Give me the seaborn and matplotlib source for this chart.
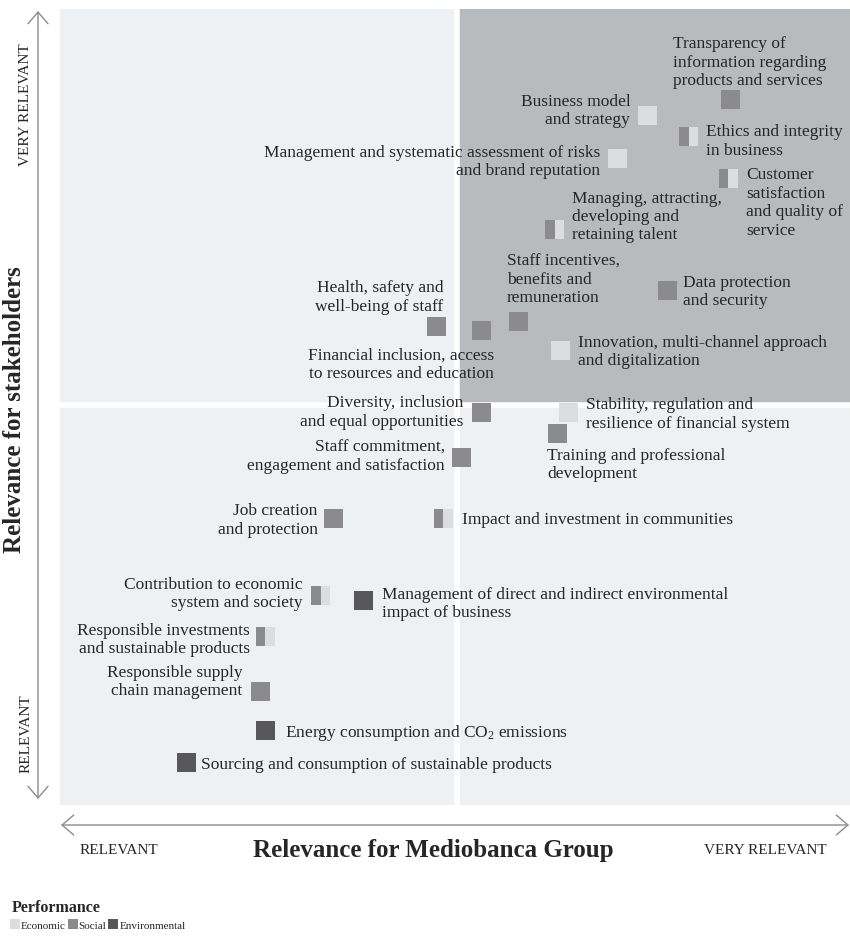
import numpy as np
import pandas as pd
import seaborn as sns
import matplotlib.pyplot as plt
from matplotlib.path import Path
from matplotlib.lines import Line2D
from matplotlib.patches import Rectangle

# ---------------- data ----------------
topics = [
    "Transparency of\ninformation regarding\nproducts and services",
    "Business model\nand strategy",
    "Ethics and integrity\nin business",
    "Management and systematic assessment of risks\nand brand reputation",
    "Customer\nsatisfaction\nand quality of\nservice",
    "Managing, attracting,\ndeveloping and\nretaining talent",
    "Staff incentives,\nbenefits and\nremuneration",
    "Data protection\nand security",
    "Health, safety and\nwell-being of staff",
    "Financial inclusion, access\nto resources and education",
    "Innovation, multi-channel approach\nand digitalization",
    "Diversity, inclusion\nand equal opportunities",
    "Stability, regulation and\nresilience of financial system",
    "Training and professional\ndevelopment",
    "Staff commitment,\nengagement and satisfaction",
    "Job creation\nand protection",
    "Impact and investment in communities",
    "Contribution to economic\nsystem and society",
    "Management of direct and indirect environmental\nimpact of business",
    "Responsible investments\nand sustainable products",
    "Responsible supply\nchain management",
    "Energy consumption and $\\mathrm{CO_2}$ emissions",
    "Sourcing and consumption of sustainable products",
]
# Relevance for Mediobanca Group (x) and for stakeholders (y), 0-100 scale
group_relevance = [84.9, 74.4, 79.6, 70.6, 84.6, 62.6, 58.0, 76.9, 47.7, 53.4, 63.4,
                   53.4, 64.4, 63.0, 50.8, 34.6, 48.5, 33.0, 38.4, 26.0, 25.4, 26.0, 16.0]
stakeholder_relevance = [88.6, 86.6, 84.0, 81.2, 78.7, 72.3, 60.8, 64.6, 60.1, 59.6, 57.1,
                         49.3, 49.3, 46.7, 43.7, 36.0, 36.0, 26.3, 25.7, 21.2, 14.3, 9.4, 5.3]
perf_left = ["Social", "Economic", "Social", "Economic", "Social", "Social", "Social", "Social",
             "Social", "Social", "Economic", "Social", "Economic", "Social", "Social", "Social",
             "Social", "Social", "Environmental", "Social", "Social", "Environmental", "Environmental"]
perf_right = ["Social", "Economic", "Economic", "Economic", "Economic", "Economic", "Social", "Social",
              "Social", "Social", "Economic", "Social", "Economic", "Social", "Social", "Social",
              "Economic", "Economic", "Environmental", "Economic", "Social", "Environmental", "Environmental"]
perf_categories = ["Economic", "Social", "Environmental"]

x_split = 50.3
y_split = 50.2

# ---------------- styles ----------------
perf_colors = ["#dcdddf", "#8b8b8e", "#58585a"]
palette = dict(zip(perf_categories, perf_colors))
light_bg = "#eff0f2"
dark_bg = "#b9babd"
text_color = "#262626"
arrow_color = "#8c8c8c"
label_size = 12.5

# label layout: (dx px, dy px (down), horizontal alignment)
label_layout = [
    (-58, -38, "left"), (-17.5, -5.5, "right"), (17.5, 4, "left"), (-17.5, 2.5, "right"),
    (17.5, 23.5, "left"), (17.5, -13.5, "left"), (-11.5, -42, "left"), (15.5, 0.5, "left"),
    (6.5, -30, "right"), (12.5, 33.5, "right"), (17.5, 0.5, "left"), (-18.5, -1, "right"),
    (17.5, 1, "left"), (-10.5, 30.5, "left"), (-16.5, -1.5, "right"), (-15.5, 1, "right"),
    (18.5, 0.5, "left"), (-18.5, -2.5, "right"), (18.5, 2.5, "left"), (-15.5, 2.5, "right"),
    (-18.5, -10, "right"), (19.5, 1.5, "left"), (14.5, 1, "left"),
]

sns.set_theme(style="white")
plt.rcParams["font.family"] = ["Liberation Serif", "DejaVu Serif"]
plt.rcParams["mathtext.fontset"] = "custom"
plt.rcParams["mathtext.rm"] = "Liberation Serif"
plt.rcParams["mathtext.it"] = "Liberation Serif:italic"
plt.rcParams["mathtext.bf"] = "Liberation Serif:bold"

df = pd.DataFrame({
    "topic": topics,
    "group": group_relevance,
    "stake": stakeholder_relevance,
    "left": perf_left,
    "right": perf_right,
})
solid = df[df["left"] == df["right"]]
split = df[df["left"] != df["right"]]

W, H = 850, 937
fig = plt.figure(figsize=(W / 100, H / 100), dpi=100)
ax = fig.add_axes([60 / W, 1 - 806 / H, 790 / W, 796 / H])
ax.set_xlim(0, 100)
ax.set_ylim(0, 100)
ax.set_facecolor(light_bg)
for s in ax.spines.values():
    s.set_visible(False)
ax.set_xticks([])
ax.set_yticks([])

ax.add_patch(Rectangle((x_split, y_split), 100 - x_split, 100 - y_split,
                       facecolor=dark_bg, lw=0, zorder=0.5))
ax.axvline(x_split, color="white", lw=4, zorder=0.6)
ax.axhline(y_split, color="white", lw=4, zorder=0.6)

marker_s = 187
left_half = Path([(-1, -1), (0, -1), (0, 1), (-1, 1), (-1, -1)],
                 [Path.MOVETO, Path.LINETO, Path.LINETO, Path.LINETO, Path.CLOSEPOLY])
right_half = Path([(0, -1), (1, -1), (1, 1), (0, 1), (0, -1)],
                  [Path.MOVETO, Path.LINETO, Path.LINETO, Path.LINETO, Path.CLOSEPOLY])

sns.scatterplot(data=solid, x="group", y="stake", hue="left", palette=palette,
                marker="s", s=marker_s, linewidth=0, legend=False, ax=ax, zorder=3)
sns.scatterplot(data=split, x="group", y="stake", hue="left", palette=palette,
                marker=left_half, s=marker_s, linewidth=0, legend=False, ax=ax, zorder=3)
sns.scatterplot(data=split, x="group", y="stake", hue="right", palette=palette,
                marker=right_half, s=marker_s, linewidth=0, legend=False, ax=ax, zorder=3)
ax.set_xlabel("")
ax.set_ylabel("")

for (t, gx, sy), (dx, dy, ha) in zip(zip(topics, group_relevance, stakeholder_relevance), label_layout):
    ax.annotate(t, xy=(gx, sy), xytext=(dx * 0.72, -dy * 0.72), textcoords="offset points",
                ha=ha, va="center", multialignment=ha, fontsize=label_size,
                color=text_color, linespacing=1.2, zorder=5)

# axes arrows
arrow_kw = dict(arrowstyle="<->,head_length=0.7,head_width=0.6", color=arrow_color,
                lw=1.0, shrinkA=0, shrinkB=0)
fig.add_artist(plt.Annotation("", xy=(38, H - 800), xytext=(38, H - 12),
                              xycoords="figure pixels", textcoords="figure pixels",
                              arrowprops=arrow_kw))
fig.add_artist(plt.Annotation("", xy=(849, H - 826), xytext=(61, H - 826),
                              xycoords="figure pixels", textcoords="figure pixels",
                              arrowprops=arrow_kw))

# axis titles
fig.text(15 / W, 1 - 410 / H, "Relevance for stakeholders", rotation=90, ha="center",
         va="center", fontsize=18, fontweight="bold", color=text_color)
fig.text(433 / W, 1 - 851 / H, "Relevance for Mediobanca Group", ha="center",
         va="center", fontsize=18, fontweight="bold", color=text_color)
fig.text(26 / W, 1 - 105 / H, "VERY RELEVANT", rotation=90, ha="center", va="center",
         fontsize=11, color=text_color)
fig.text(26 / W, 1 - 734 / H, "RELEVANT", rotation=90, ha="center", va="center",
         fontsize=11, color=text_color)
fig.text(119 / W, 1 - 851 / H, "RELEVANT", ha="center", va="center",
         fontsize=11, color=text_color)
fig.text(765 / W, 1 - 851 / H, "VERY RELEVANT", ha="center", va="center",
         fontsize=11, color=text_color)

# legend
handles = [Line2D([0], [0], marker="s", ls="", markersize=6.5, markerfacecolor=c,
                  markeredgewidth=0) for c in perf_colors]
leg = fig.legend(handles, perf_categories, loc="lower left", bbox_to_anchor=(12 / W, 6 / H),
                 ncol=3, frameon=False, title="Performance",
                 title_fontproperties={"weight": "bold", "size": 11.5},
                 alignment="left", fontsize=8, handlelength=0.55, handletextpad=0.25,
                 columnspacing=0.35, borderpad=0, borderaxespad=0)
for txt in leg.get_texts():
    txt.set_color(text_color)
leg.get_title().set_color(text_color)

fig.savefig("out.png", dpi=100)
